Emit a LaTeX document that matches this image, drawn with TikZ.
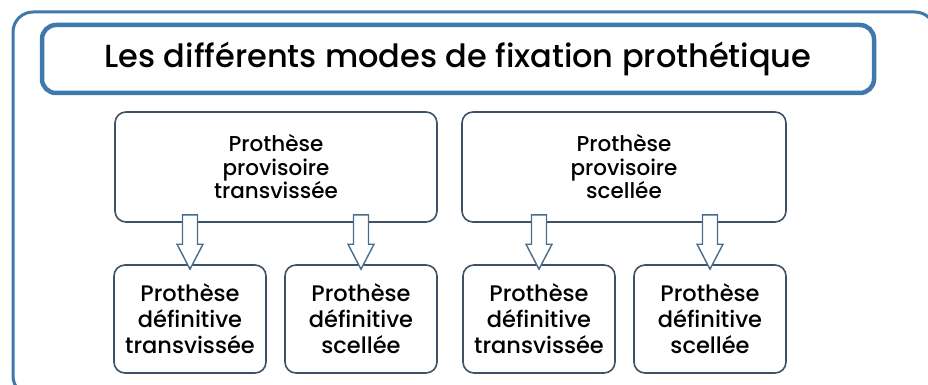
\documentclass[tikz,border=0pt]{standalone}
\usepackage{fontspec}
\setmainfont{Poppins Medium}
\usetikzlibrary{calc}

\definecolor{frameblue}{RGB}{62,120,172}
\definecolor{boxline}{RGB}{62,82,102}
\definecolor{arrowline}{RGB}{72,108,138}

\tikzset{
  titlebox/.style={draw=frameblue, line width=4.5pt, rounded corners=14pt,
    minimum width=832pt, minimum height=68pt, font=\fontsize{32}{36}\selectfont},
  modebox/.style={draw=boxline, line width=1.6pt, rounded corners=11pt, align=center,
    inner sep=0pt},
  upbox/.style={modebox, minimum height=110pt, font=\fontsize{21.5}{23.5}\selectfont},
  downbox/.style={modebox, minimum width=152pt, minimum height=108pt,
    font=\fontsize{22.5}{26}\selectfont},
  hollowarrow/.style={draw=arrowline, line width=1.4pt, fill=white, line join=miter}
}

\begin{document}
\begin{tikzpicture}[x=1pt, y=-1pt]
  \useasboundingbox (0,0) rectangle (928,385);
  \clip (0,0) rectangle (928,385);

  % Outer frame
  \draw[frameblue, line width=3pt, rounded corners=20pt] (13,12) rectangle (935,396);

  % Title
  \node[titlebox] (title) at (458,59) {Les différents modes de fixation prothétique};

  % Provisional prostheses
  \node[upbox, minimum width=322pt] (pvt) at (276,167) {Prothèse\\provisoire\\transvissée};
  \node[upbox, minimum width=324pt] (pvs) at (624,167) {Prothèse\\provisoire\\scellée};

  % Definitive prostheses
  \node[downbox] (dt1) at (190,319) {Prothèse\\définitive\\transvissée};
  \node[downbox] (ds1) at (361,319) {Prothèse\\définitive\\scellée};
  \node[downbox] (dt2) at (539,319) {Prothèse\\définitive\\transvissée};
  \node[downbox] (ds2) at (710,319) {Prothèse\\définitive\\scellée};

  % Block arrows
  \foreach \src/\dst in {pvt/dt1, pvt/ds1, pvs/dt2, pvs/ds2} {
    \draw[hollowarrow] ($(\dst.north)+(0,5)$) -- ++(-13,-25) -- ++(5.5,0)
      -- ($(\src.south -| \dst.north)+(-7.5,-8)$) -- ++(15,0)
      -- ($(\dst.north)+(7.5,-20)$) -- ++(5.5,0) -- cycle;
  }
\end{tikzpicture}
\end{document}
